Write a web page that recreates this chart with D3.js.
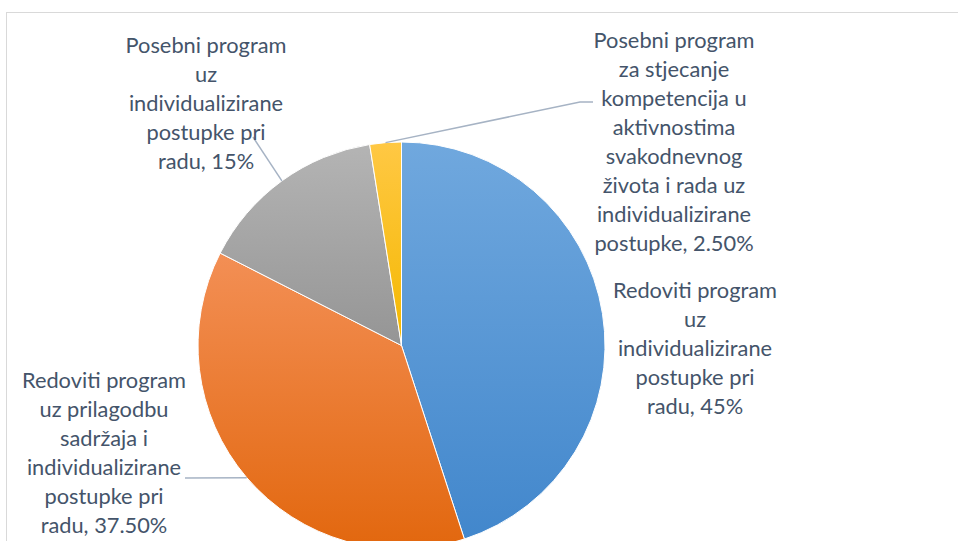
<!DOCTYPE html>
<html>
<head>
<meta charset="utf-8">
<script src="https://cdn.jsdelivr.net/npm/d3@7"></script>
<style>
  html, body { margin: 0; padding: 0; background: #fff; }
  svg { display: block; }
  .lbl { font-family: Lato, "Open Sans", sans-serif; font-size: 21.8px; fill: #44546a; }
</style>
</head>
<body>
<svg id="chart"></svg>
<script>
(function() {
  "use strict";

  // data
  var categories = [
    "Redoviti program uz individualizirane postupke pri radu",
    "Redoviti program uz prilagodbu sadržaja i individualizirane postupke pri radu",
    "Posebni program uz individualizirane postupke pri radu",
    "Posebni program za stjecanje kompetencija u aktivnostima svakodnevnog života i rada uz individualizirane postupke"
  ];
  var values = [45, 37.5, 15, 2.5];
  var valueLabels = ["45%", "37.50%", "15%", "2.50%"];
  // label text as wrapped in the picture
  var labelLines = [
    ["Redoviti program", "uz", "individualizirane", "postupke pri", "radu, 45%"],
    ["Redoviti program", "uz prilagodbu", "sadržaja i", "individualizirane", "postupke pri", "radu, 37.50%"],
    ["Posebni program", "uz", "individualizirane", "postupke pri", "radu, 15%"],
    ["Posebni program", "za stjecanje", "kompetencija u", "aktivnostima", "svakodnevnog", "života i rada uz", "individualizirane", "postupke, 2.50%"]
  ];

  var width = 958, height = 541;
  var cx = 401.5, cy = 345.5, radius = 203.5;
  var lineH = 29;

  // label placement: centre x, first line y, leader line end (null = none)
  var labelPos = [
    { x: 695, y: 290, lead: null },
    { x: 104, y: 380, lead: [[185, 478]] },
    { x: 206, y: 45, lead: [[253, 137]] },
    { x: 674, y: 40, lead: [[580, 102], [593, 102]] }
  ];

  var grads = [
    ["#70a8de", "#4287cc"],
    ["#f38f55", "#e2670e"],
    ["#b4b4b4", "#959595"],
    ["#ffc844", "#f4b800"]
  ];

  var svg = d3.select("#chart")
    .attr("width", width)
    .attr("height", height);

  // chart frame
  svg.append("rect")
    .attr("x", 6.5)
    .attr("y", 12.5)
    .attr("width", 1000)
    .attr("height", 600)
    .attr("fill", "none")
    .attr("stroke", "#d9d9d9")
    .attr("stroke-width", 1);

  var defs = svg.append("defs");
  grads.forEach(function(g, i) {
    var lg = defs.append("linearGradient")
      .attr("id", "grad" + i)
      .attr("x1", 0).attr("y1", 0)
      .attr("x2", 0).attr("y2", 1);
    lg.append("stop").attr("offset", "0%").attr("stop-color", g[0]);
    lg.append("stop").attr("offset", "100%").attr("stop-color", g[1]);
  });

  var pie = d3.pie().sort(null).value(function(d) { return d; });
  var arcs = pie(values);
  var arc = d3.arc().innerRadius(0).outerRadius(radius);
  var edge = d3.arc().innerRadius(radius).outerRadius(radius);

  var g = svg.append("g")
    .attr("transform", "translate(" + cx + "," + cy + ")");

  g.selectAll("path.slice")
    .data(arcs)
    .enter()
    .append("path")
    .attr("class", "slice")
    .attr("d", arc)
    .attr("fill", function(d, i) { return "url(#grad" + i + ")"; })
    .attr("stroke", "#fff")
    .attr("stroke-width", 1)
    .append("title")
    .text(function(d, i) { return categories[i] + ", " + valueLabels[i]; });

  // leader lines
  arcs.forEach(function(d, i) {
    var p = labelPos[i];
    if (!p.lead) return;
    var c = edge.centroid(d);
    var pts = [[c[0] + cx, c[1] + cy]].concat(p.lead);
    svg.append("path")
      .attr("d", d3.line()(pts))
      .attr("fill", "none")
      .attr("stroke", "#a6b3c4")
      .attr("stroke-width", 1.5);
  });

  // labels
  labelLines.forEach(function(lines, i) {
    var p = labelPos[i];
    var t = svg.append("text")
      .attr("class", "lbl")
      .attr("text-anchor", "middle");
    lines.forEach(function(s, j) {
      t.append("tspan")
        .attr("x", p.x)
        .attr("y", p.y + j * lineH)
        .attr("dy", "0.35em")
        .text(s);
    });
  });
})();
</script>
</body>
</html>
